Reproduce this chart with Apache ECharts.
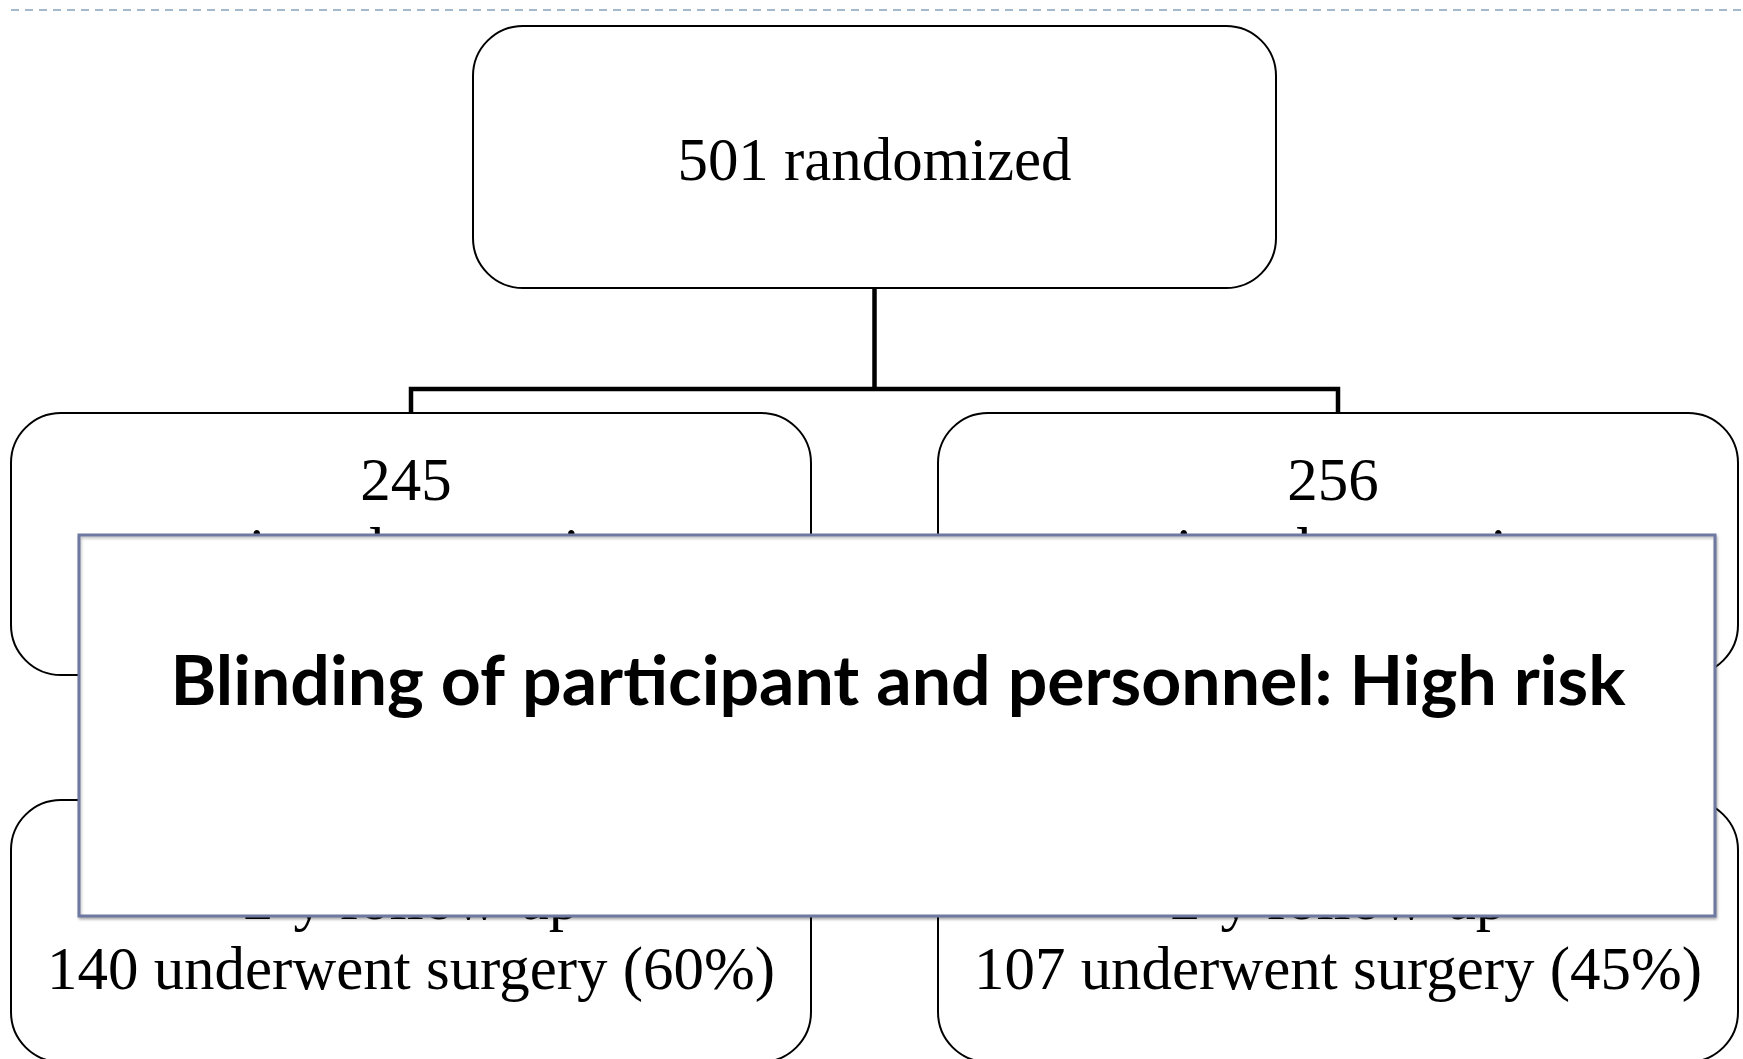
<!DOCTYPE html>
<html><head><meta charset="utf-8">
<script src="https://cdn.jsdelivr.net/npm/echarts@6/dist/echarts.min.js"></script>
<style>html,body{margin:0;padding:0;background:#fff;overflow:hidden}#c{width:1743px;height:1059px}</style>
</head><body><div id="c"></div>
<script>
// ---- content ----
const topLabel = '501 randomized';
const armCounts = ['245', '256'];
const armLine2 = ['assigned to receive', 'assigned to receive'];
const armLine3 = ['surgery', 'nonoperative care'];
const followLabels = ['2-y follow-up', '2-y follow-up'];
const surgeryLabels = ['140 underwent surgery (60%)', '107 underwent surgery (45%)'];
const overlayLabel = 'Blinding of participant and personnel: High risk';

// ---- layout ----
const SERIF = '"Liberation Serif", "Times New Roman", serif';
const SANS = 'Lato, "Open Sans", sans-serif';
const mctx = document.createElement('canvas').getContext('2d');
function fitSize(text, font, weight, target) {
  mctx.font = weight + ' 100px ' + font;
  return 100 * target / mctx.measureText(text).width;
}
const serifSize = fitSize(surgeryLabels[0], SERIF, 'normal', 728);
const boldSize = fitSize(overlayLabel, SANS, 'bold', 1455);

const topBox = {x: 473, y: 26, w: 803, h: 262};
const armBoxes = [{x: 11, y: 413, w: 800, h: 262}, {x: 938, y: 413, w: 800, h: 262}];
const followBoxes = [{x: 11, y: 800, w: 800, h: 262}, {x: 938, y: 800, w: 800, h: 262}];
const overlay = {x: 79, y: 535, w: 1636, h: 381};

function box(b) {
  return {type: 'rect', z: 1, shape: {x: b.x, y: b.y, width: b.w, height: b.h, r: 50},
    style: {fill: '#fff', stroke: '#000', lineWidth: 2}};
}
function txt(s, cx, baseline, size, font, weight, z, k) {
  return {type: 'text', z: z || 2, x: cx, y: baseline - (k || 0.26) * size,
    style: {text: s, font: (weight || 'normal') + ' ' + size.toFixed(2) + 'px ' + font,
      fill: '#000', align: 'center', verticalAlign: 'middle'}};
}

const els = [];
els.push({type: 'line', z: 0, shape: {x1: 11, y1: 10, x2: 1743, y2: 10},
  style: {stroke: '#a5b9cd', lineWidth: 2, lineDash: [8, 6]}});
els.push(box(topBox));
armBoxes.forEach(b => els.push(box(b)));
followBoxes.forEach(b => els.push(box(b)));
const cx0 = topBox.x + topBox.w / 2;
const cxs = armBoxes.map(b => b.x + b.w / 2);
els.push({type: 'polyline', z: 3, shape: {points: [[cx0, topBox.y + topBox.h], [cx0, 389]]}, style: {stroke: '#000', lineWidth: 4.5, fill: null}});
els.push({type: 'polyline', z: 3, shape: {points: [[cxs[0], 413], [cxs[0], 389], [cxs[1], 389], [cxs[1], 413]]}, style: {stroke: '#000', lineWidth: 4.5, fill: null, lineJoin: 'miter'}});

els.push(txt(topLabel, cx0, 180, serifSize, SERIF));
armBoxes.forEach((b, i) => {
  const cx = b.x + b.w / 2 - 5;
  els.push(txt(armCounts[i], cx, 500, serifSize, SERIF));
  els.push(txt(armLine2[i], cx, 570, serifSize, SERIF));
  els.push(txt(armLine3[i], cx, 640, serifSize, SERIF));
});
followBoxes.forEach((b, i) => {
  const cx = b.x + b.w / 2;
  els.push(txt(followLabels[i], cx, 919, serifSize, SERIF));
  els.push(txt(surgeryLabels[i], cx, 989, serifSize, SERIF));
});

els.push({type: 'rect', z: 10, shape: {x: overlay.x, y: overlay.y, width: overlay.w, height: overlay.h},
  style: {fill: '#fff', stroke: '#6e79a2', lineWidth: 3, shadowBlur: 3, shadowOffsetX: 1, shadowOffsetY: 2, shadowColor: 'rgba(0,0,0,0.25)'}});
els.push(txt(overlayLabel, 898, 706, boldSize, SANS, 'bold', 11, 0.34));

const chart = echarts.init(document.getElementById('c'), null, {renderer: 'canvas'});
chart.setOption({animation: false, backgroundColor: '#fff', graphic: {elements: els}});
</script>
</body></html>
